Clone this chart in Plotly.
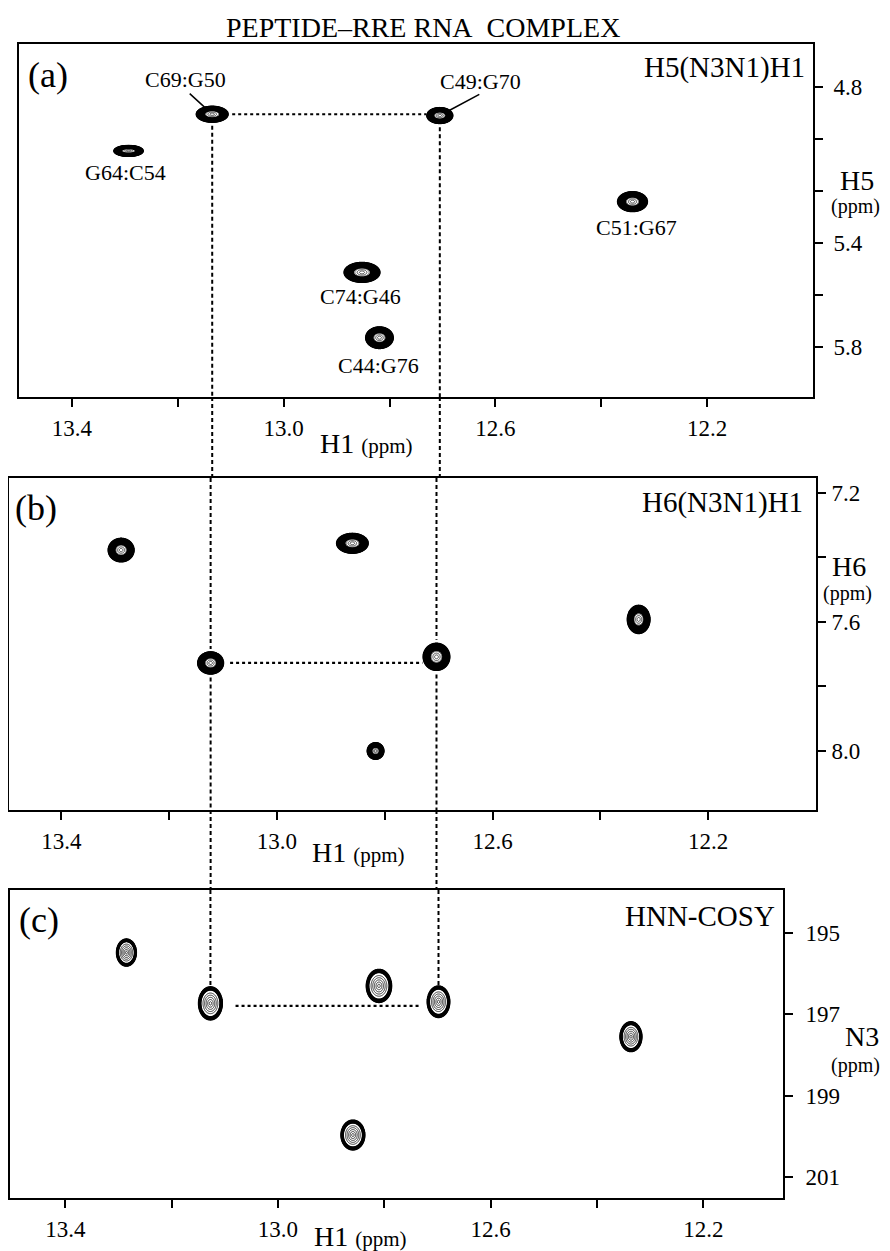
import numpy as np
import plotly.graph_objects as go

# ---------------- data ----------------
# Panel (a): H5(N3N1)H1
a_labels = ["C69:G50", "C49:G70", "G64:C54", "C51:G67", "C74:G46", "C44:G76"]
a_h1 = [13.135, 12.705, 13.293, 12.341, 12.852, 12.819]
a_h5 = [4.905, 4.910, 5.046, 5.241, 5.513, 5.764]
# peak half-extents of the lowest contour (ppm)
a_hw_h1 = [0.0302, 0.0246, 0.0279, 0.0283, 0.0340, 0.0262]
a_hw_h5 = [0.0308, 0.0308, 0.0212, 0.0385, 0.0385, 0.0417]

# Panel (b): H6(N3N1)H1
b_h1 = [13.289, 12.860, 12.329, 13.123, 12.704, 12.817]
b_h6 = [7.377, 7.356, 7.592, 7.727, 7.708, 8.000]
b_hw_h1 = [0.0241, 0.0294, 0.0211, 0.0241, 0.0248, 0.0155]
b_hw_h6 = [0.0367, 0.0310, 0.0439, 0.0346, 0.0423, 0.0259]

# Panel (c): HNN-COSY
c_h1 = [13.285, 13.127, 12.810, 12.698, 12.336, 12.859]
c_n3 = [195.48, 196.73, 196.30, 196.69, 197.55, 199.97]
c_hw_h1 = [0.0188, 0.0225, 0.0239, 0.0213, 0.0207, 0.0225]
c_hw_n3 = [0.335, 0.409, 0.409, 0.389, 0.369, 0.369]

# peaks linked by the dashed connectivity lines (indices into each panel)
link_a = [0, 1]
link_b = [3, 4]
link_c = [1, 3]

# ticks
h1_ticks = [13.4, 13.2, 13.0, 12.8, 12.6, 12.4, 12.2]
h1_ticktext = ["13.4", "", "13.0", "", "12.6", "", "12.2"]
h5_ticks = [4.8, 5.0, 5.2, 5.4, 5.6, 5.8]
h5_ticktext = ["4.8", "", "", "5.4", "", "5.8"]
h6_ticks = [7.2, 7.4, 7.6, 7.8, 8.0]
h6_ticktext = ["7.2", "", "7.6", "", "8.0"]
n3_ticks = [195, 197, 199, 201]
n3_ticktext = ["195", "197", "199", "201"]

# ---------------- layout geometry ----------------
W, H = 890, 1251          # browser window
OFF = 8                   # default body margin of the html page
FW, FH = W - OFF, H - OFF # figure size so that it fills the window
FONT = "Liberation Serif, Times New Roman, serif"


def px_x(sx):
    return min(1.0, max(0.0, (sx - OFF) / FW))


def px_y(sy):
    return min(1.0, max(0.0, 1 - (sy - OFF) / FH))


def dom_x(l, r):
    return [px_x(l), px_x(r)]


def dom_y(t, b):
    return [px_y(b), px_y(t)]


dxa, dya = dom_x(19, 813), dom_y(44, 397)
dxb, dyb = dom_x(9, 816), dom_y(478, 810)
dxc, dyc = dom_x(10, 783), dom_y(890, 1198)

rxa, rya = [13.5, 12.0], [5.992, 4.635]
rxb, ryb = [13.497, 12.0], [8.183, 7.1535]
rxc, ryc = [13.504, 12.05], [201.52, 193.94]

fig = go.Figure()
BLACK = [[0, "black"], [1, "black"]]


def add_peaks(xs, ys, hxs, hys, xa, ya, band_lo, ring_start, ring_size, ring_w):
    for cx, cy, hx, hy in zip(xs, ys, hxs, hys):
        gx = np.linspace(cx - 1.15 * hx, cx + 1.15 * hx, 130)
        gy = np.linspace(cy - 1.15 * hy, cy + 1.15 * hy, 130)
        X, Y = np.meshgrid(gx, gy)
        R = np.sqrt(((X - cx) / hx) ** 2 + ((Y - cy) / hy) ** 2)
        # dense outer contours (appear as a solid black band)
        fig.add_trace(go.Contour(
            x=gx, y=gy, z=R, xaxis=xa, yaxis=ya, showscale=False, colorscale=BLACK,
            contours=dict(coloring="lines", start=band_lo, end=1.0, size=0.02),
            line=dict(width=1.3, smoothing=1), hoverinfo="skip"))
        # sparse inner contours
        fig.add_trace(go.Contour(
            x=gx, y=gy, z=R, xaxis=xa, yaxis=ya, showscale=False, colorscale=BLACK,
            contours=dict(coloring="lines", start=ring_start,
                          end=band_lo - 0.06, size=ring_size),
            line=dict(width=ring_w, smoothing=1), hoverinfo="skip"))


add_peaks(a_h1, a_h5, a_hw_h1, a_hw_h5, "x", "y", 0.48, 0.14, 0.13, 0.7)
add_peaks(b_h1, b_h6, b_hw_h1, b_hw_h6, "x2", "y2", 0.48, 0.14, 0.13, 0.7)
add_peaks(c_h1, c_n3, c_hw_h1, c_hw_n3, "x3", "y3", 0.8, 0.1, 0.13, 0.8)

tickfont = dict(family=FONT, size=23, color="black")


def xcfg(domain, rng, anchor):
    return dict(domain=domain, range=rng, anchor=anchor, tickmode="array",
                tickvals=h1_ticks, ticktext=h1_ticktext, ticks="outside",
                ticklen=8, tickwidth=1.5, tickcolor="black", showline=True,
                linecolor="black", linewidth=2, mirror=True, showgrid=False,
                zeroline=False, tickfont=tickfont, ticklabelstandoff=1)


def ycfg(domain, rng, anchor, tv, tt, standoff):
    return dict(domain=domain, range=rng, anchor=anchor, side="right",
                tickmode="array", tickvals=tv, ticktext=tt, ticks="outside",
                ticklen=8, tickwidth=1.5, tickcolor="black", showline=True,
                linecolor="black", linewidth=2, mirror=True, showgrid=False,
                zeroline=False, tickfont=tickfont, ticklabelstandoff=standoff)


fig.update_layout(
    width=FW, height=FH, margin=dict(l=0, r=0, t=0, b=0),
    paper_bgcolor="white", plot_bgcolor="white", showlegend=False,
    xaxis=xcfg(dxa, rxa, "y"),
    yaxis=ycfg(dya, rya, "x", h5_ticks, h5_ticktext, 6),
    xaxis2=xcfg(dxb, rxb, "y2"),
    yaxis2=ycfg(dyb, ryb, "x2", h6_ticks, h6_ticktext, 1),
    xaxis3=xcfg(dxc, rxc, "y3"),
    yaxis3=ycfg(dyc, ryc, "x3", n3_ticks, n3_ticktext, 8),
)

# ---------------- connectivity lines ----------------
vdash = dict(color="black", width=2, dash="4px,3px")
hdot = dict(color="black", width=2.2, dash="3px,3px")
shapes = []
GV = 1.45
for k in range(2):
    ia, ib, ic = link_a[k], link_b[k], link_c[k]
    # panel (a): from the peak down to the bottom of the frame
    shapes.append(dict(type="line", xref="x", yref="y", x0=a_h1[ia], x1=a_h1[ia],
                       y0=a_h5[ia] + GV * a_hw_h5[ia], y1=rya[0], line=vdash))
    # gap a -> b
    shapes.append(dict(type="line", xref="x", yref="paper", x0=a_h1[ia], x1=a_h1[ia],
                       y0=dya[0], y1=dyb[1], line=vdash))
    # panel (b): through the peak
    shapes.append(dict(type="line", xref="x2", yref="y2", x0=b_h1[ib], x1=b_h1[ib],
                       y0=ryb[1], y1=b_h6[ib] - 1.25 * b_hw_h6[ib], line=vdash))
    shapes.append(dict(type="line", xref="x2", yref="y2", x0=b_h1[ib], x1=b_h1[ib],
                       y0=b_h6[ib] + 1.3 * b_hw_h6[ib], y1=ryb[0], line=vdash))
    # gap b -> c
    shapes.append(dict(type="line", xref="x2", yref="paper", x0=b_h1[ib], x1=b_h1[ib],
                       y0=dyb[0], y1=dyc[1], line=vdash))
    # panel (c): down to the peak
    shapes.append(dict(type="line", xref="x3", yref="y3", x0=c_h1[ic], x1=c_h1[ic],
                       y0=ryc[1], y1=c_n3[ic] - 1.0 * c_hw_n3[ic], line=vdash))

# horizontal dotted lines
shapes.append(dict(type="line", xref="x", yref="y",
                   x0=a_h1[link_a[0]] - 1.25 * a_hw_h1[link_a[0]],
                   x1=a_h1[link_a[1]] + 1.05 * a_hw_h1[link_a[1]],
                   y0=a_h5[link_a[0]], y1=a_h5[link_a[0]], line=hdot))
shapes.append(dict(type="line", xref="x2", yref="y2",
                   x0=b_h1[link_b[0]] - 1.5 * b_hw_h1[link_b[0]],
                   x1=b_h1[link_b[1]] + 1.05 * b_hw_h1[link_b[1]],
                   y0=b_h6[link_b[0]], y1=b_h6[link_b[0]], line=hdot))
shapes.append(dict(type="line", xref="x3", yref="y3",
                   x0=c_h1[link_c[0]] - 2.1 * c_hw_h1[link_c[0]],
                   x1=c_h1[link_c[1]] + 1.5 * c_hw_h1[link_c[1]],
                   y0=c_n3[link_c[0]] + 0.06, y1=c_n3[link_c[0]] + 0.06, line=hdot))
fig.update_layout(shapes=shapes)

# ---------------- text ----------------
ann = []
label_font = dict(family=FONT, size=22, color="black")
label_shift = [(-27, 35), (41, 34), (-3, -22), (4, -26), (-2, -24), (-1, -28)]
for i, lab in enumerate(a_labels):
    dx, dy = label_shift[i]
    ann.append(dict(x=a_h1[i], y=a_h5[i], xref="x", yref="y", text=lab,
                    showarrow=False, xshift=dx, yshift=dy, font=label_font))
# leader lines for the two linked assignments
leaders = [(-24, -22, 9), (41, -22, 8)]
for i, (ax, ay, so) in zip(link_a, leaders):
    ann.append(dict(x=a_h1[i], y=a_h5[i], xref="x", yref="y", text="",
                    showarrow=True, arrowhead=0, arrowwidth=1.5, arrowcolor="black",
                    ax=ax, ay=ay, standoff=so))


def ptext(x, y, text, size, xanchor="center"):
    ann.append(dict(x=px_x(x), y=px_y(y), xref="paper", yref="paper", text=text,
                    showarrow=False, xanchor=xanchor, yanchor="middle",
                    font=dict(family=FONT, size=size, color="black")))


ptext(423, 27, "PEPTIDE\u2013RRE RNA&nbsp;&nbsp;COMPLEX", 28)
ptext(48, 75, "(a)", 36)
ptext(36, 508, "(b)", 36)
ptext(39, 920, "(c)", 36)
ptext(807, 68, "H5(N3N1)H1", 29, "right")
ptext(805, 503, "H6(N3N1)H1", 29, "right")
ptext(777, 916, "HNN-COSY", 29, "right")

h1_title = "H1 <span style='font-size:21px'>(ppm)</span>"
ptext(366, 443, h1_title, 28)
ptext(358, 853, h1_title, 28)
ptext(360, 1236, h1_title, 28)

ptext(857, 180, "H5", 28)
ptext(855, 206, "(ppm)", 20)
ptext(849, 566, "H6", 28)
ptext(847, 593, "(ppm)", 20)
ptext(862, 1036, "N3", 28)
ptext(855, 1065, "(ppm)", 20)

fig.update_layout(annotations=ann)

fig.write_html("out.html")
